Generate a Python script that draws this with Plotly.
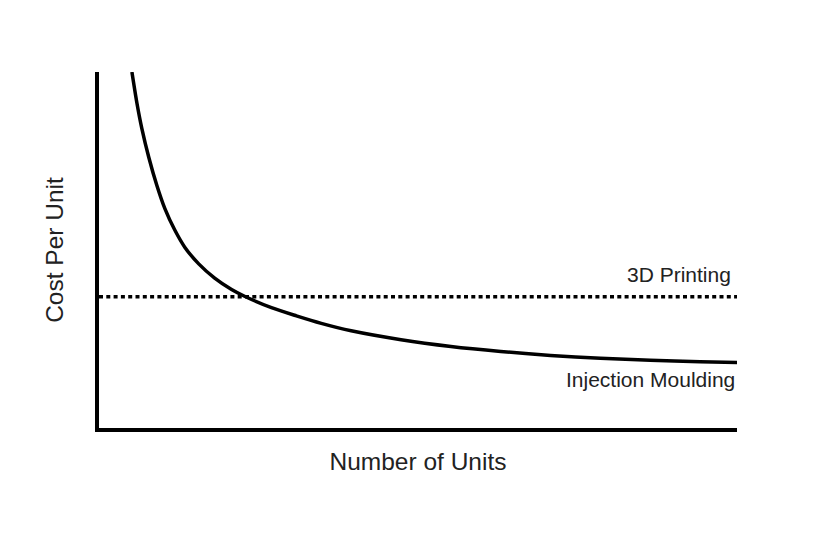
import plotly.graph_objects as go

# number of units (relative) and cost per unit (relative)
units = [5.16, 5.94, 6.72, 7.81, 9.06, 10.31, 11.88, 13.44, 15.63, 18.13, 20.78, 22.81,
         27.03, 30.94, 34.84, 39.53, 47.34, 55.16, 62.97, 70.78, 78.59, 86.41, 94.22, 100]
injection_cost = [100, 91.3, 84.1, 76.0, 68.2, 61.7, 55.6, 50.8, 46.1, 42.1, 38.9, 37.0,
                  33.8, 31.5, 29.4, 27.3, 24.8, 22.9, 21.5, 20.4, 19.6, 19.0, 18.6, 18.4]
printing_units = [0, 100]
printing_cost = [36.9, 36.9]

font_family = 'Liberation Sans, Helvetica, Arial, sans-serif'

fig = go.Figure()
fig.add_trace(go.Scatter(
    x=printing_units, y=printing_cost, mode='lines',
    line=dict(color='black', width=3.5, dash='4px,3.3px'),
    cliponaxis=False, hoverinfo='skip'
))
fig.add_trace(go.Scatter(
    x=units, y=injection_cost, mode='lines',
    line=dict(color='black', width=3.5, shape='spline', smoothing=0.8),
    cliponaxis=False, hoverinfo='skip'
))

fig.add_annotation(x=100, y=43.0, text='3D Printing', showarrow=False,
                   xanchor='right', yanchor='middle', xshift=-4,
                   font=dict(size=21, color='#222', family=font_family))
fig.add_annotation(x=100, y=13.7, text='Injection Moulding', showarrow=False,
                   xanchor='right', yanchor='middle',
                   font=dict(size=21, color='#222', family=font_family))

# page body has an 8px margin, so the margins are shifted to compensate
fig.update_layout(
    width=825, height=541,
    margin=dict(l=91, r=96, t=64, b=121),
    paper_bgcolor='white', plot_bgcolor='white',
    showlegend=False,
    font=dict(family=font_family, color='#222'),
    xaxis=dict(range=[0, 100], showgrid=False, zeroline=False, showticklabels=False,
               ticks='', showline=True, linewidth=4, linecolor='black',
               title=dict(text='Number of Units', standoff=23, font=dict(size=24.5))),
    yaxis=dict(range=[0, 100], showgrid=False, zeroline=False, showticklabels=False,
               ticks='', showline=True, linewidth=4, linecolor='black',
               title=dict(text='Cost Per Unit', standoff=25, font=dict(size=24.5))),
)

fig.write_html('out.html')
